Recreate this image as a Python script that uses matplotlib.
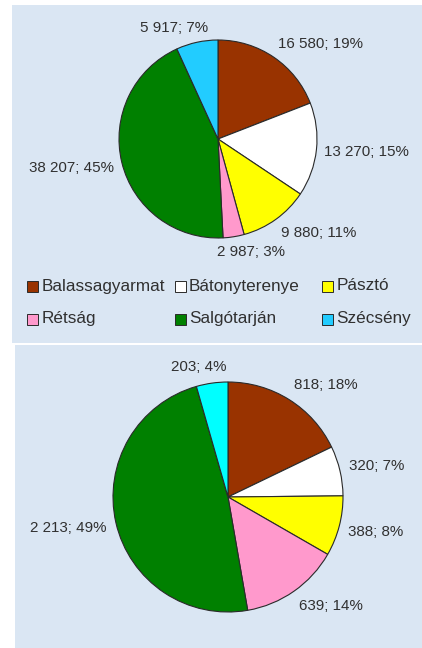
import numpy as np
import matplotlib
matplotlib.use("Agg")
import matplotlib.pyplot as plt
from matplotlib.patches import Rectangle

plt.rcParams['font.family'] = ['Liberation Sans', 'DejaVu Sans']

# ---- data ----
towns = ["Balassagyarmat", "Bátonyterenye", "Pásztó", "Rétság", "Salgótarján", "Szécsény"]
values_top = [16580, 13270, 9880, 2987, 38207, 5917]
pct_top = [19, 15, 11, 3, 45, 7]
values_bottom = [818, 320, 388, 639, 2213, 203]
pct_bottom = [18, 7, 8, 14, 49, 4]

colors_top = ["#993300", "#FFFFFF", "#FFFF00", "#FF99CC", "#008000", "#22CCFF"]
colors_bottom = ["#993300", "#FFFFFF", "#FFFF00", "#FF99CC", "#008000", "#00FFFF"]

W, H = 422, 648
BG = "#DAE6F3"
TXT = "#303030"

fig = plt.figure(figsize=(W / 100, H / 100), dpi=100)
fig.patch.set_facecolor("white")
ax = fig.add_axes([0, 0, 1, 1])


def Y(y):
    return H - y


# panels
ax.add_patch(Rectangle((12, Y(343)), 410, 338, facecolor=BG, edgecolor="none", zorder=0))
ax.add_patch(Rectangle((15, Y(648)), 407, 303, facecolor=BG, edgecolor="none", zorder=0))


def fmt(v):
    return f"{v:,}".replace(",", " ")


def draw_pie(values, pcts, colors, cx, cy, r):
    wedges, _ = ax.pie(values, colors=colors, startangle=90, counterclock=False,
                       center=(cx, Y(cy)), radius=r,
                       wedgeprops=dict(edgecolor="#2a2a2a", linewidth=0.8))
    items = []
    for w, v, p in zip(wedges, values, pcts):
        th = np.deg2rad((w.theta1 + w.theta2) / 2)
        c, s = np.cos(th), np.sin(th)
        px = cx + r * 1.08 * c
        py = Y(cy) + r * 1.08 * s
        t = ax.text(px, py, f"{fmt(v)}; {p}%", fontsize=10.9, color=TXT,
                    ha="left", va="bottom", zorder=5)
        items.append((t, px, py, c, s))
    return items


labels = []
labels += draw_pie(values_top, pct_top, colors_top, 218, 139, 99)
labels += draw_pie(values_bottom, pct_bottom, colors_bottom, 228, 497, 115)

ax.set_xlim(0, W)
ax.set_ylim(0, H)
ax.set_aspect("auto")
ax.axis("off")

# legend (top chart)
for i, (name, col) in enumerate(zip(towns, colors_top)):
    row, colm = divmod(i, 3)
    mx = 27 + colm * 147.5
    my = 286 + row * 33
    ax.add_patch(Rectangle((mx, Y(my) - 5.5), 11, 11, facecolor=col,
                           edgecolor="#2a2a2a", linewidth=0.7, zorder=5))
    ax.text(mx + 14.5, Y(my), name, fontsize=12.3, color=TXT, ha="left",
            va="center", zorder=5)

# adjust label anchors (Excel-like placement)
fig.canvas.draw()
renderer = fig.canvas.get_renderer()
for t, px, py, c, s in labels:
    bb = t.get_window_extent(renderer=renderer)
    w, h = bb.width, bb.height
    fx = 0.5 - 0.5 * np.clip(3 * c, -1, 1)
    fy = 0.5 - 0.5 * np.clip(2 * s, -1, 1)
    t.set_position((px - fx * w, py - fy * h))

fig.savefig("out.png", dpi=100, facecolor="white")
